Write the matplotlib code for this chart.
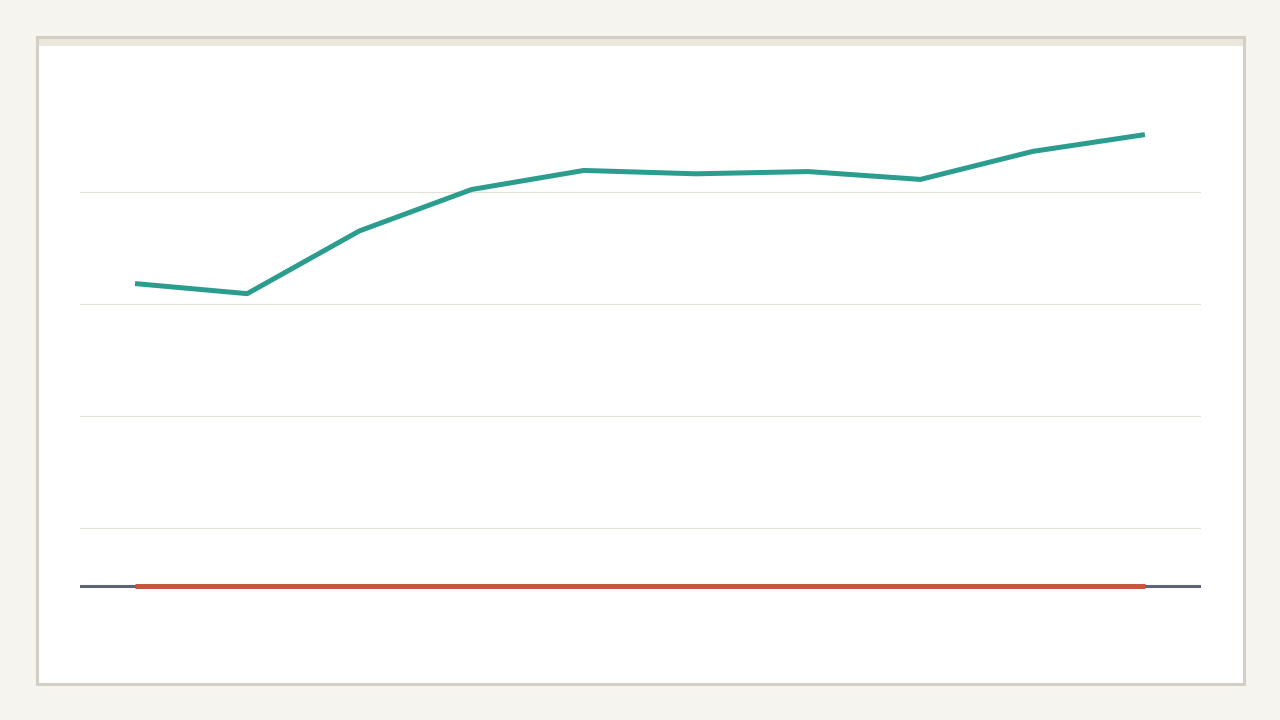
import matplotlib
matplotlib.use("Agg")
import matplotlib.pyplot as plt
from matplotlib.patches import Rectangle

# series values (arbitrary units, 0 = baseline)
periods = list(range(10))
upper_series = [2.70, 2.61, 3.17, 3.54, 3.71, 3.68, 3.70, 3.63, 3.88, 4.03]
lower_series = [0, 0, 0, 0, 0, 0, 0, 0, 0, 0]
grid_values = [0.52, 1.52, 2.52, 3.52]

W, H = 1280, 720
fig = plt.figure(figsize=(12.8, 7.2), dpi=100)
fig.patch.set_facecolor("#f5f4ef")

def fx(px):
    return px / W

def fy(py):
    return 1 - py / H

# card with border and top band
fig.patches.append(Rectangle((fx(37), fy(684)), fx(1244) - fx(37), fy(37) - fy(684),
                             transform=fig.transFigure, facecolor="white",
                             edgecolor="#d3cfc4", linewidth=2.2, zorder=-2))
fig.patches.append(Rectangle((fx(38.5), fy(46)), fx(1243) - fx(38.5), fy(38.5) - fy(46),
                             transform=fig.transFigure, facecolor="#ebe7dd",
                             edgecolor="none", zorder=-1))

ax = fig.add_axes([fx(80), fy(640), fx(1201) - fx(80), fy(60) - fy(640)])
ax.set_zorder(2)
ax.set_facecolor("none")
ax.set_xlim(-0.49, 9.5)
ax.set_ylim(-0.482, 4.696)

for g in grid_values:
    ax.axhline(g, color="#e3e2d6", linewidth=0.9, zorder=1)
ax.axhline(0, color="#5a6575", linewidth=2.2, zorder=2)

ax.plot(periods, lower_series, color="#c4573e", linewidth=3.6, zorder=3, solid_capstyle="butt")
ax.plot(periods, upper_series, color="#2a9d8f", linewidth=3.6, zorder=4, solid_capstyle="butt")

ax.set_xticks([])
ax.set_yticks([])
for s in ax.spines.values():
    s.set_visible(False)

fig.savefig("out.png", dpi=100, facecolor=fig.get_facecolor())
